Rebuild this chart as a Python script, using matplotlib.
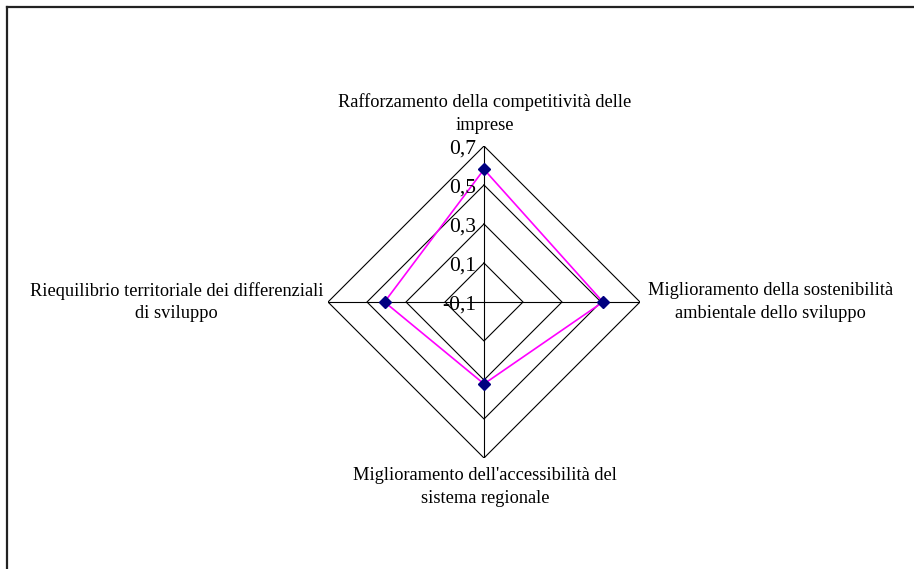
import numpy as np
import matplotlib
matplotlib.use("Agg")
import matplotlib.pyplot as plt
from matplotlib.lines import Line2D

categories = [
    "Rafforzamento della competitività delle\nimprese",
    "Miglioramento della sostenibilità\nambientale dello sviluppo",
    "Miglioramento dell'accessibilità del\nsistema regionale",
    "Riequilibrio territoriale dei differenziali\ndi sviluppo",
]
values = [0.58, 0.51, 0.32, 0.41]
ticks = [-0.1, 0.1, 0.3, 0.5, 0.7]
tick_labels = ["-0,1", "0,1", "0,3", "0,5", "0,7"]

plt.rcParams['font.family'] = ['Liberation Serif', 'DejaVu Serif']

W, H = 914, 569
fig = plt.figure(figsize=(W / 100, H / 100), dpi=100)
fig.patch.set_facecolor('white')

cx, cy, R = 484, 569 - 302, 156
ax = fig.add_axes([(cx - R) / W, (cy - R) / H, 2 * R / W, 2 * R / H], projection='polar')
ax.set_theta_offset(np.pi / 2)
ax.set_theta_direction(-1)
ax.set_ylim(ticks[0], ticks[-1])
ax.grid(False)
ax.spines['polar'].set_visible(False)
ax.set_xticks([])
ax.set_yticks([])
ax.patch.set_alpha(0)

n = len(categories)
angles = [i * 2 * np.pi / n for i in range(n)]
closed = angles + angles[:1]

# diamond grid rings
for t in ticks[1:]:
    ax.plot(closed, [t] * (n + 1), color='black', lw=0.8, zorder=1)
# spokes
for a in angles:
    ax.plot([a, a], [ticks[0], ticks[-1]], color='black', lw=0.8, zorder=1)

# data
vals = values + values[:1]
ax.plot(closed, vals, color='#FF00FF', lw=1.2, zorder=3)
ax.plot(angles, values, linestyle='none', marker='D', color='#000080',
        markersize=6.5, zorder=4)

# tick labels
for t, lab in zip(ticks, tick_labels):
    ax.annotate(lab, xy=(0, t), xytext=(-8, -3), textcoords='offset pixels',
                ha='right', va='center', fontsize=15.5, color='black',
                annotation_clip=False)

# category labels
offsets = [((1, 12), 'center', 'bottom'),
           ((8, 0), 'left', 'center'),
           ((1, -9), 'center', 'top'),
           ((-5, 0), 'right', 'center')]
for a, lab, (off, ha, va) in zip(angles, categories, offsets):
    ax.annotate(lab, xy=(a, ticks[-1]), xytext=off, textcoords='offset pixels',
                ha=ha, va=va, multialignment='center', fontsize=13.2,
                color='black', linespacing=1.45, annotation_clip=False)

# outer frame (partially visible)
x0, y0 = 7.5 / W, 1 - 6.5 / H
fig.add_artist(Line2D([x0, x0], [y0, -0.05], transform=fig.transFigure,
                      color='#222222', lw=1.6))
fig.add_artist(Line2D([x0, 1.05], [y0, y0], transform=fig.transFigure,
                      color='#222222', lw=1.6))

fig.savefig('out.png', dpi=100)
